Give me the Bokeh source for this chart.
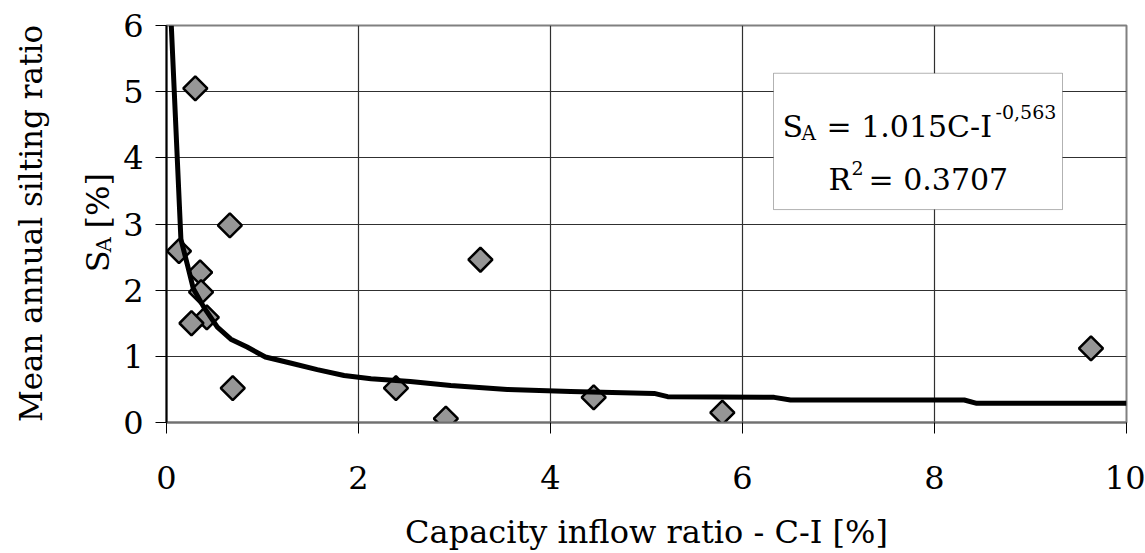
from math import pi
from bokeh.plotting import figure
from bokeh.layouts import row
from bokeh.models import Range1d, FixedTicker, BoxAnnotation, Label
from bokeh.core.properties import value
from bokeh.embed import file_html
from bokeh.resources import INLINE

# ---- data ----
capacity_inflow = [0.30, 0.66, 0.13, 0.35, 0.36, 0.42, 0.26, 0.69, 2.39, 2.91, 3.27, 4.45, 5.79, 9.63]
silting_ratio = [5.05, 2.98, 2.59, 2.27, 1.97, 1.59, 1.50, 0.52, 0.52, 0.06, 2.46, 0.38, 0.15, 1.12]

trend_x = [0.05, 0.15, 0.22, 0.28, 0.39, 0.53, 0.67, 0.84, 1.03, 1.29, 1.57, 1.85, 2.13,
           2.54, 2.96, 3.55, 4.21, 5.08, 5.22, 6.33, 6.50, 8.31, 8.44, 10.0]
trend_y = [6.0, 2.77, 2.37, 2.02, 1.74, 1.44, 1.26, 1.14, 0.99, 0.90, 0.80, 0.71, 0.66,
           0.62, 0.56, 0.50, 0.47, 0.44, 0.39, 0.38, 0.34, 0.34, 0.29, 0.29]

x_ticks = [0, 2, 4, 6, 8, 10]
y_ticks = [0, 1, 2, 3, 4, 5, 6]

x_title = "Capacity inflow ratio - C-I [%]"
y_title_1 = "Mean annual silting ratio"
y_title_sym = "S"
y_title_sub = "A"
y_title_unit = "[%]"
eq_lhs = "S"
eq_sub = "A"
eq_coef = "= 1.015C-I"
eq_exp = "-0,563"
r2_lhs = "R"
r2_exp = "2"
r2_val = "= 0.3707"

FONT = "DejaVu Serif"
W, H = 1145, 553
LEFT_W = 120
FRAME_LEFT, FRAME_RIGHT = 166, 1126
FRAME_TOP, FRAME_BOTTOM = 25, 424

# ---------------- main chart ----------------
p = figure(width=W - LEFT_W, height=H, output_backend="svg", toolbar_location=None,
           x_range=Range1d(0, 10), y_range=Range1d(0, 6),
           min_border_left=FRAME_LEFT - LEFT_W, min_border_right=W - FRAME_RIGHT,
           min_border_top=FRAME_TOP, min_border_bottom=H - FRAME_BOTTOM)

p.background_fill_color = "white"
p.border_fill_color = "white"
p.outline_line_color = "#808080"
p.outline_line_width = 2

for g in (p.xgrid, p.ygrid):
    g.grid_line_color = "#303030"
    g.grid_line_width = 1.2
p.xgrid.ticker = FixedTicker(ticks=x_ticks)
p.ygrid.ticker = FixedTicker(ticks=y_ticks)

p.xaxis.ticker = FixedTicker(ticks=x_ticks)
p.yaxis.ticker = FixedTicker(ticks=y_ticks)
for a in (p.xaxis, p.yaxis):
    a.major_label_text_font = FONT
    a.major_label_text_font_size = "32px"
    a.major_label_text_color = "black"
    a.major_tick_in = 0
    a.major_tick_out = 11
    a.major_tick_line_color = "black"
    a.minor_tick_line_color = None
p.xaxis.axis_line_color = "#707070"
p.xaxis.axis_line_width = 2
p.yaxis.axis_line_color = "black"
p.yaxis.axis_line_width = 2
p.xaxis.major_label_standoff = 32
p.yaxis.major_label_standoff = 12
p.yaxis.axis_label = None

p.xaxis.axis_label = x_title
p.xaxis.axis_label_text_font = FONT
p.xaxis.axis_label_text_font_size = "32px"
p.xaxis.axis_label_text_font_style = "normal"
p.xaxis.axis_label_text_color = "black"
p.xaxis.axis_label_standoff = 21

# scatter points (diamonds)
p.scatter(capacity_inflow, silting_ratio, marker="square", angle=pi / 4, size=17,
          fill_color="#969696", line_color="black", line_width=2.5)

# trendline
p.line(trend_x, trend_y, line_color="black", line_width=5, line_join="round")


def ax(px):
    """page pixel x -> data x (for annotation placement)"""
    return (px - FRAME_LEFT) / 96.0


def ay(py):
    """page pixel y -> data y (for annotation placement)"""
    return (FRAME_BOTTOM - py) / 66.5


box = BoxAnnotation(left=ax(773), right=ax(1062), top=ay(73), bottom=ay(210),
                    fill_color="white", fill_alpha=1.0, line_color="black", line_width=1)
p.add_layout(box)


def lab(x, y, text, size):
    p.add_layout(Label(x=x, y=y, text=text, text_font=FONT, text_font_size=size,
                       text_color="black", text_align="left", text_baseline="alphabetic"))


# S_A = 1.015C-I^-0,563
lab(ax(782), ay(127), eq_lhs, "30px")
lab(ax(801), ay(133), eq_sub, "20px")
lab(ax(826), ay(127), eq_coef, "30px")
lab(ax(995), ay(112), eq_exp, "19px")
# R^2 = 0.3707
lab(ax(828), ay(180), r2_lhs, "30px")
lab(ax(851), ay(168), r2_exp, "19px")
lab(ax(868), ay(180), r2_val, "30px")

# ---------------- left strip holding the two-line y title ----------------
# its frame is aligned with the main frame (page y 25..424); y data = H - page y
q = figure(width=LEFT_W, height=H, output_backend="svg", toolbar_location=None,
           x_range=Range1d(0, LEFT_W), y_range=Range1d(H - FRAME_BOTTOM, H - FRAME_TOP),
           min_border_left=0, min_border_right=0,
           min_border_top=FRAME_TOP, min_border_bottom=H - FRAME_BOTTOM)
q.xaxis.visible = False
q.yaxis.visible = False
q.xgrid.visible = False
q.ygrid.visible = False
q.outline_line_color = None
q.background_fill_color = "white"
q.border_fill_color = "white"


def ytxt(x, page_y, text, size, align="left", baseline="alphabetic"):
    q.text(x=[x], y=[H - page_y], text=[text], angle=pi / 2,
           text_font=value(FONT), text_font_size=size, text_color="black",
           text_align=align, text_baseline=baseline)


ytxt(30, 224, y_title_1, "31px", align="center", baseline="middle")
ytxt(97, 273, y_title_sym, "32px")
ytxt(103, 253, y_title_sub, "21px")
ytxt(97, 229, y_title_unit, "32px")

layout = row(q, p, spacing=0)
open("out.html", "w").write(file_html(layout, INLINE))
